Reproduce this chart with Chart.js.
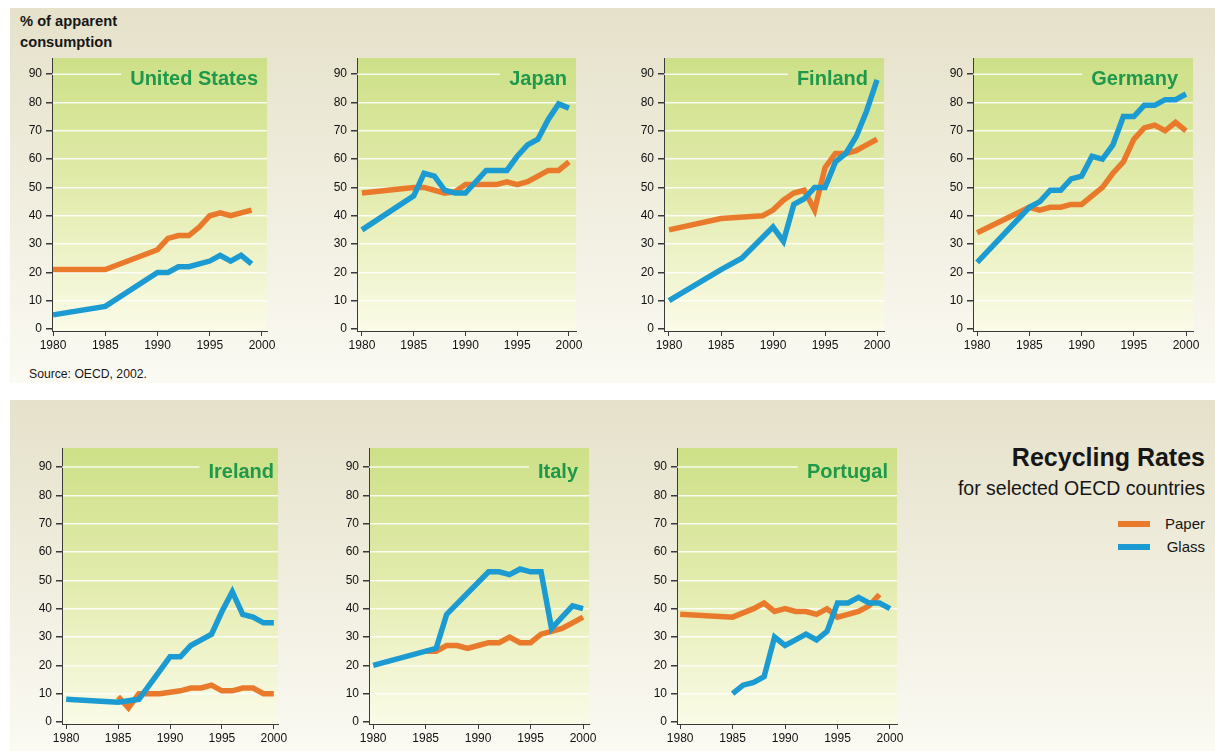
<!DOCTYPE html>
<html>
<head>
<meta charset="utf-8">
<title>Recycling Rates</title>
<script src="https://cdn.jsdelivr.net/npm/chart.js@4.4.0/dist/chart.umd.min.js"></script>
<style>
  body { margin: 0; background: #fff; font-family: "Liberation Sans", Arial, Helvetica, sans-serif; }
  #page { position: relative; width: 1215px; height: 751px; overflow: hidden; }
  .panel { position: absolute; left: 10px; right: 0; background: linear-gradient(#e5e1ca, #fbfaf3); }
  .box { position: absolute; }
  .txt { position: absolute; white-space: nowrap; color: #161616; }
  .key { position: absolute; right: 10px; height: 20px; font-size: 15px; line-height: 20px; color: #161616; }
  .key span { position: absolute; right: 55px; top: 7px; width: 32px; height: 6px; }
</style>
</head>
<body>
<div id="page">
  <div class="panel" style="top:8px;height:375px"></div>
  <div class="panel" style="top:400px;height:351px"></div>
  <div class="txt" style="left:20px;top:11px;font-size:14.7px;font-weight:bold;line-height:21px">% of apparent<br>consumption</div>
  <div class="txt" style="left:29px;top:366px;font-size:12.2px;line-height:16px">Source: OECD, 2002.</div>
  <div class="txt" style="right:10px;top:442px;font-size:25px;font-weight:bold;line-height:30px">Recycling Rates</div>
  <div class="txt" style="right:10px;top:477px;font-size:19.5px;line-height:22px">for selected OECD countries</div>
</div>
<script>
// values, one entry per year 1980..2000 (null = no point)
const years = [1980, 1981, 1982, 1983, 1984, 1985, 1986, 1987, 1988, 1989, 1990,
               1991, 1992, 1993, 1994, 1995, 1996, 1997, 1998, 1999, 2000];
const xTicks = [1980, 1985, 1990, 1995, 2000];
const yTicks = [0, 10, 20, 30, 40, 50, 60, 70, 80, 90];
const seriesNames = ['Paper', 'Glass'];
const countries = ['United States', 'Japan', 'Finland', 'Germany', 'Ireland', 'Italy', 'Portugal'];

const usPaper = [21, null, null, null, null, 21, null, null, null, null, 28, 32, 33, 33, 36, 40, 41, 40, 41, 42, null];
const usGlass = [5, null, null, null, null, 8, null, null, null, null, 20, 20, 22, 22, 23, 24, 26, 24, 26, 23, null];

const jpPaper = [48, null, null, null, null, 50, 50, 49, 48, 48.5, 51, 51, 51, 51, 52, 51, 52, 54, 56, 56, 59];
const jpGlass = [35, null, null, null, null, 47, 55, 54, 49, 48, 48, 52, 56, 56, 56, 61, 65, 67, 74, 79.5, 78];

const fiPaper = [35, null, null, null, null, 39, null, null, null, 40, 42, 45.5, 48, 49, 42, 57, 62, 62, 63, 65, 67];
const fiGlass = [10, null, null, null, null, 21, null, 25, null, null, 36, 31, 44, 46, 50, 50, 59, 62, 68, 77, 88];

const dePaper = [34, null, null, null, null, 43, 42, 43, 43, 44, 44, 47, 50, 55, 59, 67, 71, 72, 70, 73, 70];
const deGlass = [23.5, null, null, null, null, 43, 45, 49, 49, 53, 54, 61, 60, 65, 75, 75, 79, 79, 81, 81, 83];

const iePaper = [null, null, null, null, null, 9, 5, 10, 10, 10, 10.5, 11, 12, 12, 13, 11, 11, 12, 12, 10, 10];
const ieGlass = [8, null, null, null, null, 7, 7.5, 8, null, null, 23, 23, 27, 29, 31, 39, 46, 38, 37, 35, 35];

const itPaper = [null, null, null, null, null, 25, 25, 27, 27, 26, 27, 28, 28, 30, 28, 28, 31, 32, 33, 35, 37];
const itGlass = [20, null, null, null, null, null, 26, 38, null, null, null, 53, 53, 52, 54, 53, 53, 33, 37, 41, 40];

const ptPaper = [38, null, null, null, null, 37, 38.5, 40, 42, 39, 40, 39, 39, 38, 40, 37, 38, 39, 41, 45, null];
const ptGlass = [null, null, null, null, null, 10, 13, 14, 16, 30, 27, 29, 31, 29, 32, 42, 42, 44, 42, 42, 40];

const countrySeries = [
  [usPaper, usGlass], [jpPaper, jpGlass], [fiPaper, fiGlass], [dePaper, deGlass],
  [iePaper, ieGlass], [itPaper, itGlass], [ptPaper, ptGlass]
];

// plot-area boxes on the page, scale ranges and where the country name sits
const layout = [
  { l: 52,  t: 58,  w: 215, h: 273, yMax: 95.7, xMin: 1979.9,  xMax: 2000.48, inset: 9 },
  { l: 357, t: 58,  w: 219, h: 273, yMax: 95.7, xMin: 1979.52, xMax: 2000.68, inset: 9 },
  { l: 664, t: 58,  w: 220, h: 273, yMax: 95.7, xMin: 1979.52, xMax: 2000.67, inset: 16 },
  { l: 973, t: 58,  w: 220, h: 273, yMax: 95.7, xMin: 1979.6,  xMax: 2000.67, inset: 15 },
  { l: 62,  t: 448, w: 216, h: 276, yMax: 96.7, xMin: 1979.6,  xMax: 2000.4,  inset: 4 },
  { l: 369, t: 448, w: 220, h: 276, yMax: 96.7, xMin: 1979.6,  xMax: 2000.57, inset: 11 },
  { l: 677, t: 448, w: 220, h: 276, yMax: 96.7, xMin: 1979.7,  xMax: 2000.67, inset: 9 }
];

const COLORS = ['#e97a2c', '#1b9bd1'];
const AXIS = '#3a3a3a';
const GRID = 'rgba(255,255,255,0.85)';
const FONT = 'Liberation Sans, Arial, Helvetica, sans-serif';
const YW = 44, PT = 4, PR = 18, XH = 28;

const plotBackground = {
  id: 'plotBackground',
  beforeDraw(chart) {
    const a = chart.chartArea, ctx = chart.ctx;
    const g = ctx.createLinearGradient(0, a.top, 0, a.bottom);
    g.addColorStop(0, '#cde087');
    g.addColorStop(0.5, '#e3ecae');
    g.addColorStop(1, '#fbfbe8');
    ctx.save();
    ctx.fillStyle = g;
    ctx.fillRect(a.left, a.top, a.right - a.left, a.bottom - a.top);
    ctx.restore();
  }
};

const countryTitle = {
  id: 'countryTitle',
  beforeDatasetsDraw(chart, args, opts) {
    const a = chart.chartArea, ctx = chart.ctx;
    const y90 = chart.scales.y.getPixelForValue(90);
    ctx.save();
    ctx.font = 'bold 20px ' + FONT;
    const right = a.right - opts.inset;
    const left = right - ctx.measureText(opts.text).width;
    // the top grid line stops short of the country name
    ctx.strokeStyle = GRID;
    ctx.lineWidth = 1.5;
    ctx.beginPath();
    ctx.moveTo(a.left, y90);
    ctx.lineTo(left - 9, y90);
    ctx.stroke();
    ctx.fillStyle = '#1e984a';
    ctx.textAlign = 'right';
    ctx.textBaseline = 'middle';
    ctx.fillText(opts.text, right, y90 + 5);
    ctx.restore();
  }
};

const page = document.getElementById('page');

countries.forEach((name, i) => {
  const box = layout[i];
  const wrap = document.createElement('div');
  wrap.className = 'box';
  wrap.style.left = (box.l - YW) + 'px';
  wrap.style.top = (box.t - PT) + 'px';
  const canvas = document.createElement('canvas');
  canvas.width = box.w + YW + PR;
  canvas.height = box.h + PT + XH;
  wrap.appendChild(canvas);
  page.appendChild(wrap);

  const datasets = countrySeries[i].map((vals, k) => ({
    label: seriesNames[k],
    data: years.map((yr, j) => ({ x: yr, y: vals[j] })),
    borderColor: COLORS[k],
    borderWidth: 5.5,
    pointRadius: 0,
    spanGaps: true,
    tension: 0,
    order: k === 1 ? 0 : 1
  }));

  const chart = new Chart(canvas, {
    type: 'line',
    data: { datasets },
    plugins: [plotBackground, countryTitle],
    options: {
      responsive: false,
      animation: false,
      layout: { padding: { top: PT, right: PR, left: 0, bottom: 0 } },
      plugins: {
        legend: { display: false },
        tooltip: { enabled: false },
        countryTitle: { text: name, inset: box.inset }
      },
      scales: {
        x: {
          type: 'linear',
          min: box.xMin,
          max: box.xMax,
          border: { color: AXIS, width: 1 },
          grid: { drawOnChartArea: false, tickLength: 5, tickColor: AXIS },
          ticks: { font: { family: FONT, size: 12 }, color: '#111', padding: 2, maxRotation: 0, autoSkip: false, callback: v => String(v) },
          afterBuildTicks: s => { s.ticks = xTicks.map(v => ({ value: v })); },
          afterFit: s => { s.height = XH; s.paddingLeft = 0; s.paddingRight = 0; }
        },
        y: {
          min: -0.7,
          max: box.yMax,
          border: { color: AXIS, width: 1 },
          grid: {
            color: c => (c.tick && (c.tick.value === 0 || c.tick.value === 90)) ? 'rgba(0,0,0,0)' : GRID,
            lineWidth: 1.5,
            tickLength: 6,
            tickColor: AXIS
          },
          ticks: { font: { family: FONT, size: 12 }, color: '#111', padding: 4, callback: v => String(v) },
          afterBuildTicks: s => { s.ticks = yTicks.map(v => ({ value: v })); },
          afterFit: s => { s.width = YW; s.paddingTop = 0; s.paddingBottom = 0; }
        }
      }
    }
  });

  // put the plot area exactly on its box
  const ca = chart.chartArea;
  wrap.style.left = (box.l - ca.left) + 'px';
  wrap.style.top = (box.t - ca.top) + 'px';
});

// legend, bottom right
seriesNames.forEach((n, k) => {
  const d = document.createElement('div');
  d.className = 'key';
  d.style.top = (514 + k * 23) + 'px';
  d.textContent = n;
  const sw = document.createElement('span');
  sw.style.background = COLORS[k];
  d.appendChild(sw);
  page.appendChild(d);
});
</script>
</body>
</html>
